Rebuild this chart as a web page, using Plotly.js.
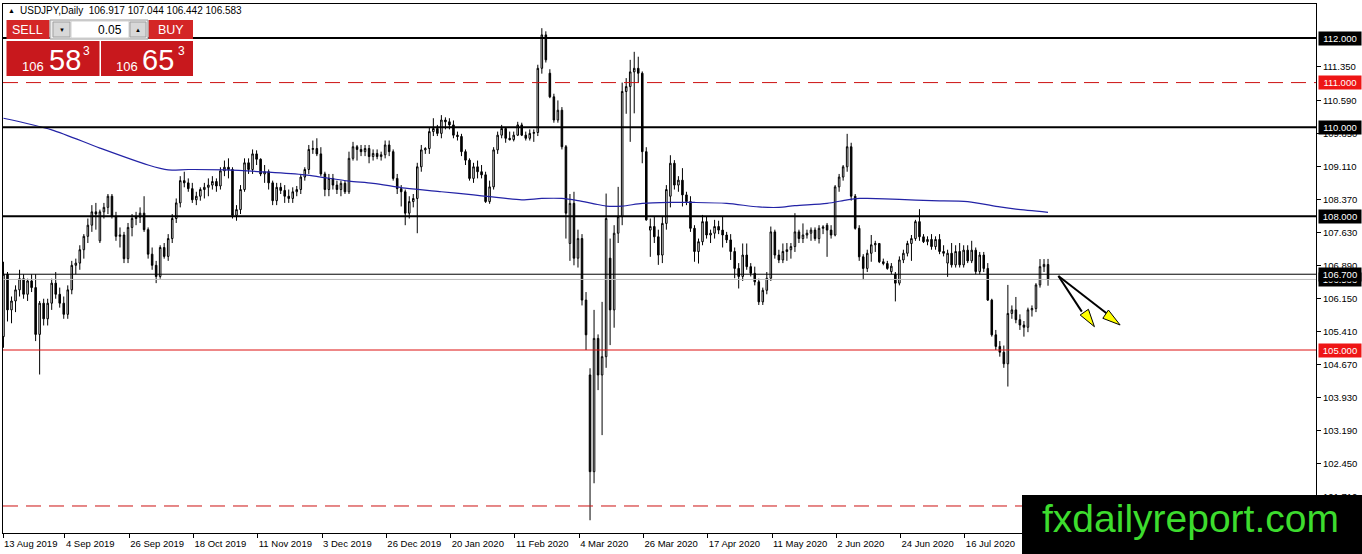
<!DOCTYPE html>
<html><head><meta charset="utf-8">
<script src="https://cdn.plot.ly/plotly-3.0.1.min.js"></script>
<style>html,body{margin:0;padding:0;background:#fff;overflow:hidden}#chart{width:1362px;height:554px}</style>
</head><body><div id="chart"></div>
<script>
// ---------- DATA ----------
const symbol = 'USDJPY,Daily';
const openP = [
105.30,106.70,105.90,106.10,106.35,106.60,106.25,106.55,106.40,105.35,
106.05,105.70,106.05,106.50,106.25,106.05,105.80,106.35,106.90,106.95,
107.25,107.55,107.80,108.10,107.45,108.10,108.20,108.45,108.00,107.55,
107.58,107.05,107.75,107.95,107.98,108.07,107.70,107.15,106.90,106.65,
107.30,107.10,107.50,107.95,108.30,108.80,108.75,108.62,108.37,108.45,
108.60,108.65,108.70,108.78,108.68,109.02,109.10,109.05,108.02,108.15,
108.60,109.20,109.05,109.40,109.28,108.95,109.00,108.75,108.35,108.65,
108.58,108.45,108.40,108.55,108.60,108.88,109.05,109.50,109.52,109.40,
108.95,108.60,108.85,108.70,108.60,108.74,108.55,109.30,109.56,109.50,
109.45,109.52,109.34,109.41,109.34,109.38,109.60,109.45,108.85,108.62,
108.55,108.07,108.33,108.40,109.11,109.49,109.52,109.90,109.97,109.86,
110.16,110.12,110.05,109.82,109.79,109.45,109.26,108.85,109.11,109.00,
108.93,108.33,108.66,109.49,109.82,109.97,109.75,109.72,109.82,110.05,
109.82,109.75,109.86,109.88,111.32,112.07,111.21,110.68,110.16,110.38,
109.56,107.39,108.29,107.06,107.50,106.12,104.44,102.27,105.26,104.44,
104.85,107.06,105.90,107.62,107.99,110.80,110.91,111.24,111.32,111.21,
109.45,107.69,107.77,107.54,107.13,107.84,108.45,109.19,108.70,108.81,
108.48,108.33,107.73,107.21,107.43,107.88,107.58,107.62,107.77,107.69,
107.58,107.47,107.21,106.83,106.65,107.13,106.87,106.72,106.53,106.08,
106.34,106.61,107.65,107.13,107.02,107.21,107.25,107.32,107.65,107.50,
107.58,107.62,107.69,107.50,107.73,107.80,107.69,107.58,108.66,108.88,
109.11,109.56,108.45,107.73,107.09,106.83,107.17,107.36,107.39,106.98,
106.94,106.76,106.70,106.50,107.02,107.17,107.39,107.50,107.88,107.54,
107.43,107.48,107.32,107.48,107.21,106.95,107.17,106.91,107.21,106.91,
107.24,107.00,107.24,106.76,107.13,106.83,106.12,105.34,105.08,104.95,
104.69,105.82,105.90,105.68,105.56,105.51,105.90,105.93,106.46,106.87,
106.917];
const highP = [
106.98,106.75,106.20,106.45,106.80,106.70,106.60,106.70,106.70,106.10,
106.15,106.15,106.60,106.75,106.40,106.20,106.45,107.00,107.05,107.35,
107.60,107.95,108.25,108.30,108.15,108.30,108.50,108.50,108.10,107.75,
107.65,107.85,108.05,108.10,108.20,108.45,107.75,107.30,107.00,107.35,
107.40,107.60,108.05,108.40,108.90,109.00,108.85,108.75,108.55,108.65,
108.75,108.85,108.90,108.85,109.10,109.25,109.30,109.10,108.25,108.70,
109.30,109.30,109.50,109.48,109.30,109.15,109.05,108.80,108.75,108.75,
108.70,108.60,108.65,108.68,108.95,109.10,109.60,109.70,109.75,109.55,
109.00,108.95,108.95,108.80,108.80,108.80,109.45,109.67,109.60,109.60,
109.60,109.60,109.50,109.50,109.45,109.70,109.70,109.50,108.95,108.70,
108.60,108.45,108.50,109.20,109.60,109.55,110.00,110.20,110.05,110.27,
110.22,110.20,110.15,109.90,109.85,109.50,109.30,109.20,109.25,109.15,
109.00,108.80,109.55,109.90,110.05,110.00,109.90,109.90,110.12,110.10,
109.90,109.95,109.95,111.40,112.22,112.15,111.30,110.75,110.60,110.45,
109.60,108.50,108.55,107.70,107.60,106.30,104.59,105.90,105.35,106.08,
108.51,107.50,107.80,108.66,111.00,111.10,111.51,111.69,111.58,111.25,
109.55,107.95,108.00,107.70,108.00,108.70,109.37,109.26,108.90,109.08,
108.55,108.45,107.80,107.50,108.03,107.99,107.70,107.92,107.90,107.99,
107.65,107.60,107.30,106.95,107.39,107.39,106.95,106.87,106.60,106.40,
106.75,107.77,107.70,107.25,107.39,107.40,107.40,108.07,107.70,107.84,
107.70,107.75,107.75,107.80,107.80,107.85,107.80,108.70,108.95,109.15,
109.85,109.65,108.50,107.80,107.15,107.25,107.58,107.45,107.40,107.05,
107.00,106.95,106.75,107.10,107.25,107.45,107.58,107.92,108.16,107.60,
107.55,107.60,107.55,107.60,107.35,107.25,107.40,107.35,107.40,107.35,
107.35,107.45,107.30,107.20,107.20,106.95,106.15,105.45,105.20,105.10,
106.46,106.00,106.19,105.80,105.65,105.95,106.00,106.50,107.04,107.04,
107.044];
const lowP = [
105.05,105.64,105.60,105.85,106.20,106.15,106.10,106.30,105.20,104.45,
105.55,105.55,105.90,106.15,105.95,105.70,105.70,106.25,106.70,106.80,
107.05,107.40,107.65,107.70,107.40,107.95,108.05,107.95,107.45,107.30,
106.95,106.95,107.55,107.80,107.85,107.65,107.05,106.80,106.50,106.60,
107.05,107.00,107.40,107.85,108.20,108.65,108.55,108.30,108.25,108.35,
108.40,108.45,108.60,108.55,108.60,108.90,108.85,107.95,107.90,108.05,
108.55,108.95,108.95,109.15,108.90,108.75,108.60,108.25,108.25,108.50,
108.30,108.30,108.30,108.45,108.50,108.80,108.95,109.40,109.35,108.90,
108.45,108.45,108.60,108.50,108.45,108.50,108.50,109.25,109.25,109.35,
109.35,109.19,109.25,109.28,109.25,109.30,109.35,108.80,108.50,108.22,
107.80,107.95,108.20,107.62,109.00,109.40,109.40,109.80,109.80,109.75,
109.95,109.95,109.75,109.70,109.35,109.15,108.80,108.75,108.85,108.85,
108.30,108.28,108.60,109.40,109.75,109.65,109.70,109.68,109.80,109.80,
109.70,109.70,109.67,109.80,111.20,111.45,110.65,110.10,110.10,109.50,
107.50,107.00,106.90,106.85,106.00,105.00,101.18,102.01,104.10,103.09,
104.60,105.11,105.50,107.40,107.80,110.30,109.67,110.31,111.00,109.19,
107.90,107.09,107.40,106.91,106.95,107.70,108.20,108.60,108.55,108.22,
108.25,107.65,106.98,106.94,107.35,107.50,107.40,107.50,107.60,107.30,
107.40,107.02,106.61,106.38,106.55,106.80,106.65,106.45,106.01,106.01,
106.25,106.55,107.05,106.95,106.95,107.00,107.05,107.20,107.40,107.40,
107.50,107.45,107.45,107.39,107.60,107.09,107.50,107.55,108.55,108.80,
109.00,108.35,107.70,107.00,106.57,106.75,106.98,107.20,106.95,106.90,
106.80,106.70,106.09,106.45,106.95,107.10,107.00,107.45,107.45,107.40,
107.35,107.25,107.25,107.15,107.10,106.64,106.85,106.85,106.85,106.85,
106.95,106.95,106.70,106.70,106.75,106.10,105.30,105.00,104.85,104.60,
104.18,105.70,105.60,105.45,105.30,105.40,105.75,105.85,106.40,106.75,
106.442];
const closeP = [
106.70,105.90,106.10,106.35,106.60,106.25,106.55,106.40,105.35,106.05,
105.70,106.05,106.50,106.25,106.05,105.80,106.35,106.90,106.95,107.25,
107.55,107.80,108.10,108.05,108.10,108.20,108.45,108.00,107.55,107.58,
107.05,107.75,107.95,107.98,108.07,107.70,107.15,106.90,106.65,107.30,
107.10,107.50,107.95,108.30,108.80,108.75,108.62,108.37,108.45,108.60,
108.65,108.70,108.78,108.68,109.02,109.10,109.05,108.02,108.15,108.60,
109.20,109.05,109.40,109.28,108.95,109.00,108.75,108.35,108.65,108.58,
108.45,108.40,108.55,108.60,108.88,109.05,109.50,109.52,109.40,108.95,
108.60,108.85,108.70,108.60,108.74,108.55,109.30,109.56,109.50,109.45,
109.52,109.34,109.41,109.34,109.38,109.60,109.45,108.85,108.62,108.55,
108.07,108.33,108.40,109.11,109.49,109.52,109.90,109.97,109.86,110.16,
110.12,110.05,109.82,109.79,109.45,109.26,108.85,109.11,109.00,108.93,
108.33,108.66,109.49,109.82,109.97,109.75,109.72,109.82,110.05,109.82,
109.75,109.86,109.88,111.32,112.07,111.51,110.68,110.16,110.38,109.56,
108.07,108.29,107.06,107.50,106.12,105.34,102.27,105.26,104.44,104.85,
107.95,105.90,107.62,107.99,110.80,110.91,111.24,111.32,111.21,109.45,
107.92,107.77,107.54,107.13,107.84,108.60,109.19,108.70,108.81,108.48,
108.33,107.73,107.21,107.43,107.88,107.58,107.62,107.77,107.69,107.58,
107.47,107.21,106.83,106.65,107.13,106.87,106.72,106.53,106.08,106.34,
106.61,107.65,107.13,107.02,107.21,107.25,107.32,107.65,107.50,107.58,
107.62,107.69,107.50,107.73,107.76,107.69,107.58,108.66,108.88,109.11,
109.56,108.45,107.73,107.09,106.83,107.17,107.36,107.39,106.98,106.94,
106.83,106.88,106.50,107.02,107.17,107.39,107.50,107.88,107.54,107.43,
107.48,107.32,107.48,107.21,107.17,107.17,106.91,107.21,106.91,107.24,
107.00,107.24,106.76,107.13,106.83,106.12,105.34,105.08,104.95,104.69,
105.82,105.90,105.68,105.56,105.51,105.90,105.93,106.46,106.87,106.92,
106.583];

// 200-period moving average, read at sample bars
const maBars = [0,12,24,36,41,46,55,66,75,79,86,92,100,109,117,121,129,134,139,143,147,150,154,159,166,172,180,188,193,197,205,210,213,215,223,231,240,248,252,260];
const maVals = [110.20,109.94,109.53,109.15,109.04,109.05,109.04,108.99,108.93,108.88,108.79,108.74,108.63,108.55,108.48,108.44,108.37,108.40,108.40,108.35,108.28,108.23,108.23,108.29,108.31,108.31,108.29,108.21,108.20,108.24,108.29,108.37,108.40,108.40,108.38,108.35,108.33,108.21,108.16,108.09];

const tickLabels = ['13 Aug 2019','4 Sep 2019','26 Sep 2019','18 Oct 2019','11 Nov 2019','3 Dec 2019','26 Dec 2019','20 Jan 2020','11 Feb 2020','4 Mar 2020','26 Mar 2020','17 Apr 2020','11 May 2020','2 Jun 2020','24 Jun 2020','16 Jul 2020'];
const tickBars = [0,16,32,48,64,80,96,112,128,144,160,176,192,208,224,240];
const yTickVals = [111.35,110.59,109.85,109.11,108.37,107.63,106.89,106.15,105.41,104.67,103.93,103.19,102.45,101.71];

const levelValues = [112, 111, 110, 108, 106.7, 106.583, 105, 101.5];
const askPrice = 106.653;
const lotSize = '0.05';

// ---------- STYLE / LAYOUT ----------
const FONT = 'Liberation Sans, Arial, sans-serif';
const NARROW = 'Liberation Sans Narrow, Liberation Sans, Arial, sans-serif';
const PLOT = {l:3, r:1316, t:4, b:533};
const PX = px => (px - PLOT.l) / (PLOT.r - PLOT.l);
const PY = py => (PLOT.b - py) / (PLOT.b - PLOT.t);

const levelStyles = [
  {c:'#000000', w:2, d:'solid', lab:'#000000'},
  {c:'#cc1111', w:1, d:'15px,8px', lab:'#ee1515'},
  {c:'#000000', w:2, d:'solid', lab:'#000000'},
  {c:'#000000', w:2, d:'solid', lab:'#000000'},
  {c:'#000000', w:1, d:'solid', lab:'#000000'},
  {c:'#bdbdbd', w:1, d:'solid', lab:'#000000'},
  {c:'#dd1111', w:1, d:'solid', lab:'#ee1515'},
  {c:'#cc1111', w:1, d:'15px,8px', lab:null}
];

const bars = closeP.map((_, i) => i);
const last = closeP.length - 1;

const traces = [
  {type:'candlestick', x:bars, open:openP, high:highP, low:lowP, close:closeP,
   increasing:{line:{color:'#000', width:1}, fillcolor:'#ffffff'},
   decreasing:{line:{color:'#000', width:1}, fillcolor:'#000000'},
   whiskerwidth:0, hoverinfo:'skip', showlegend:false},
  {type:'scatter', mode:'lines', x:maBars, y:maVals,
   line:{color:'#2323a6', width:1.2, shape:'spline', smoothing:0.8}, hoverinfo:'skip', showlegend:false}
];

const shapes = [];
levelValues.forEach((v, k) => {
  const s = levelStyles[k];
  shapes.push({type:'line', xref:'paper', x0:0, x1:1, yref:'y', y0:v, y1:v,
    line:{color:s.c, width:s.w, dash:s.d}, layer:'above'});
});

// forecast arrows (bar index / price)
const arrowStart = [262.58, 106.66];
const arrowEnds = [[268.41, 105.86], [274.63, 105.82]];
const arrowHeads = [
  [[268.0,105.785],[270.05,105.913],[271.55,105.523]],
  [[273.64,105.711],[275.03,105.897],[277.94,105.561]]
];
arrowEnds.forEach((e, k) => {
  shapes.push({type:'line', xref:'x', yref:'y', x0:arrowStart[0], y0:arrowStart[1], x1:e[0], y1:e[1],
    line:{color:'#000', width:2}, layer:'above'});
  const h = arrowHeads[k];
  shapes.push({type:'path', xref:'x', yref:'y',
    path:`M ${h[0][0]},${h[0][1]} L ${h[1][0]},${h[1][1]} L ${h[2][0]},${h[2][1]} Z`,
    fillcolor:'#ffff00', line:{color:'#000', width:1}, layer:'above'});
});

function rectPx(x0, y0, x1, y1, fill, lc, lw) {
  return {type:'rect', xref:'paper', yref:'paper', x0:PX(x0), x1:PX(x1), y0:PY(y1), y1:PY(y0),
    fillcolor:fill, line:{color:lc || fill, width:lw == null ? 0 : lw}, layer:'above'};
}
// one-click trading panel
shapes.push(rectPx(6.5, 20, 49.5, 39, '#d42626'));
shapes.push(rectPx(148.5, 20, 193, 39, '#d42626'));
shapes.push(rectPx(50, 20, 148, 39, '#ececec', '#9c9c9c', 1));
shapes.push(rectPx(53, 22, 70, 37, '#d8d8d8', '#a0a0a0', 1));
shapes.push(rectPx(71, 21, 129, 38, '#ffffff', '#cfcfcf', 1));
shapes.push(rectPx(130, 22, 146, 37, '#d8d8d8', '#a0a0a0', 1));
shapes.push(rectPx(6.5, 41, 99.5, 76, '#c8181d'));
shapes.push(rectPx(101, 41, 193, 76, '#c8181d'));
// watermark box
shapes.push(rectPx(1022, 495, 1362, 554, '#000000'));

function textPx(x, y, text, size, color, anchor, family) {
  return {xref:'paper', yref:'paper', x:PX(x), y:PY(y), xanchor:anchor || 'center', yanchor:'middle',
    text:text, showarrow:false, font:{size:size, color:color, family:family || FONT}};
}

const annotations = [];
// header
const hdr = `${symbol}\u00a0\u00a0${openP[last].toFixed(3)} ${highP[last].toFixed(3)} ${lowP[last].toFixed(3)} ${closeP[last].toFixed(3)}`;
annotations.push(textPx(6, 10.5, '▲', 7, '#000', 'left'));
annotations.push(textPx(18, 10.5, hdr, 10, '#000', 'left'));

// level labels (106.583 first so 106.700 sits on top)
[0, 1, 2, 3, 5, 4, 6].forEach(k => {
  const s = levelStyles[k];
  if (!s.lab) return;
  annotations.push({xref:'paper', x:1, xanchor:'left', xshift:2, yref:'y', y:levelValues[k], yanchor:'middle',
    text:levelValues[k].toFixed(3), showarrow:false, bgcolor:s.lab, borderpad:1, width:40, height:11,
    font:{color:'#ffffff', size:9.5, family:FONT}});
});

// panel texts
const bidStr = closeP[last].toFixed(3), askStr = askPrice.toFixed(3);
annotations.push(textPx(27.5, 30, 'SELL', 12.5, '#fff', 'center', NARROW));
annotations.push(textPx(170.5, 30, 'BUY', 12.5, '#fff', 'center', NARROW));
annotations.push(textPx(124, 30, lotSize, 12, '#000', 'right', NARROW));
annotations.push(textPx(61.5, 29.5, '▼', 6, '#000'));
annotations.push(textPx(138, 29.5, '▲', 6, '#000'));
annotations.push(textPx(33, 66, bidStr.slice(0, 3), 13, '#fff'));
annotations.push(textPx(64.5, 60, bidStr.slice(4, 6), 29, '#fff'));
annotations.push(textPx(86.5, 51, bidStr.slice(6), 12, '#fff'));
annotations.push(textPx(127, 66, askStr.slice(0, 3), 13, '#fff'));
annotations.push(textPx(157.5, 60, askStr.slice(4, 6), 29, '#fff'));
annotations.push(textPx(181, 51, askStr.slice(6), 12, '#fff'));
// watermark
annotations.push(textPx(1190, 518, 'fxdailyreport.com', 39, '#3ddc2e'));

const layout = {
  width:1362, height:554,
  margin:{l:3, r:46, t:4, b:21, pad:0},
  paper_bgcolor:'#ffffff', plot_bgcolor:'#ffffff',
  showlegend:false, boxgap:0.45,
  font:{family:FONT, size:9.5, color:'#000'},
  xaxis:{range:[-0.12, 326.7], tickmode:'array',
    tickvals:tickBars.map(b => Math.max(b - 0.7, -0.1)), ticktext:tickLabels,
    ticks:'outside', ticklen:4, tickwidth:1, tickcolor:'#000',
    ticklabelposition:'outside right', ticklabelstandoff:2,
    showgrid:false, zeroline:false, showline:true, linecolor:'#000', linewidth:1, mirror:true,
    rangeslider:{visible:false}, fixedrange:true, tickfont:{size:9.5, color:'#000', family:FONT}},
  yaxis:{side:'right', range:[100.894, 112.763], tickmode:'array',
    tickvals:yTickVals, ticktext:yTickVals.map(v => v.toFixed(3)),
    ticks:'outside', ticklen:4, tickwidth:1, tickcolor:'#000',
    showgrid:false, zeroline:false, showline:true, linecolor:'#000', linewidth:1, mirror:true,
    fixedrange:true, tickfont:{size:9.5, color:'#000', family:FONT}},
  shapes:shapes, annotations:annotations
};

Plotly.newPlot('chart', traces, layout, {displayModeBar:false, staticPlot:true});
</script>
</body></html>
